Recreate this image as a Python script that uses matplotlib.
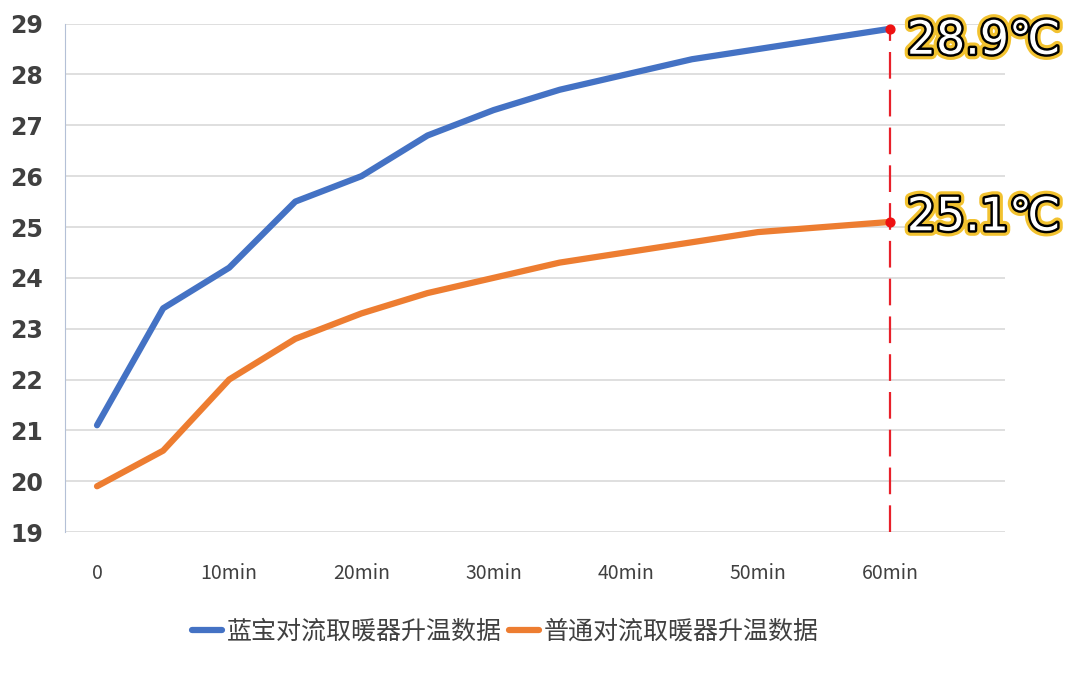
import matplotlib
matplotlib.use('Agg')
import matplotlib.pyplot as plt
import matplotlib.patheffects as pe

# 数据：每5分钟一次读数
minutes = [0, 5, 10, 15, 20, 25, 30, 35, 40, 45, 50, 55, 60]
lanbao = [21.1, 23.4, 24.2, 25.5, 26.0, 26.8, 27.3, 27.7, 28.0, 28.3, 28.5, 28.7, 28.9]
putong = [19.9, 20.6, 22.0, 22.8, 23.3, 23.7, 24.0, 24.3, 24.5, 24.7, 24.9, 25.0, 25.1]
xticks = [0, 10, 20, 30, 40, 50, 60]
xtick_labels = ['0', '10min', '20min', '30min', '40min', '50min', '60min']
series_names = ['蓝宝对流取暖器升温数据', '普通对流取暖器升温数据']

plt.rcParams['font.family'] = ['Noto Sans CJK SC', 'DejaVu Sans']

fig = plt.figure(figsize=(10.66, 6.76), dpi=100)
ax = fig.add_axes([0.061, 0.213, 0.882, 0.752])

ax.plot(minutes, lanbao, color='#4472c4', lw=4.5, solid_capstyle='round', label=series_names[0])
ax.plot(minutes, putong, color='#ed7d31', lw=4.5, solid_capstyle='round', label=series_names[1])

# 终点标记与虚线
ax.plot([minutes[-1], minutes[-1]], [19, lanbao[-1]], color='#e8202a', lw=1.6,
        ls=(0, (12, 5)), zorder=3)
ax.scatter([minutes[-1], minutes[-1]], [lanbao[-1], putong[-1]], color='#ee1111', s=40, zorder=4)

glow = [pe.Stroke(linewidth=8, foreground='#f2c230'),
        pe.Stroke(linewidth=3.5, foreground='black'), pe.Normal()]
# 上面的标签略微下移（图片顶端空间不够）
for val, dy in [(lanbao[-1], -9), (putong[-1], 3)]:
    ax.annotate(f'{val}℃', (minutes[-1], val), xytext=(12, dy), textcoords='offset points',
                fontsize=33, color='white', va='center', ha='left', family=['DejaVu Sans'],
                path_effects=glow, annotation_clip=False, zorder=5)

ax.set_xlim(-2.42, 68.7)
ax.set_ylim(19, 29)
ax.set_yticks(range(19, 30))
ax.set_xticks(xticks)
ax.set_xticklabels(xtick_labels)
ax.grid(axis='y', color='#d9d9d9', lw=1.2)
ax.set_axisbelow(True)

for s in ['top', 'right', 'bottom']:
    ax.spines[s].set_visible(False)
ax.spines['left'].set_color('#b4c0d6')
ax.tick_params(axis='both', length=0)
ax.tick_params(axis='y', pad=16)
ax.tick_params(axis='x', pad=22)
for t in ax.get_yticklabels():
    t.set_fontsize(17)
    t.set_fontweight('bold')
    t.set_color('#404040')
    t.set_family(['DejaVu Sans'])
for t in ax.get_xticklabels():
    t.set_fontsize(14)
    t.set_fontweight('medium')
    t.set_color('#404040')

leg = fig.legend(loc='center', bbox_to_anchor=(0.474, 0.065), ncol=2, frameon=False,
                 fontsize=18, handlelength=1.2, handletextpad=0.2, columnspacing=0.3)
for t in leg.get_texts():
    t.set_color('#404040')

fig.savefig('out.png', dpi=100, facecolor='white')
